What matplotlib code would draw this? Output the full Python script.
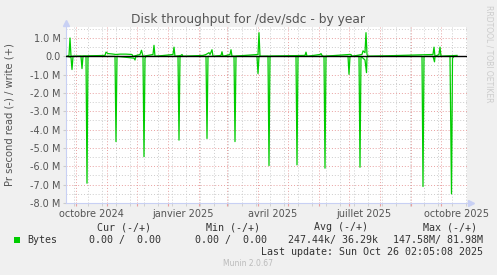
import numpy as np
import matplotlib
matplotlib.use("Agg")
import matplotlib.pyplot as plt
import matplotlib.dates as mdates
from matplotlib.ticker import MultipleLocator, FuncFormatter

# Donnees (jours depuis le 1er octobre 2024, valeurs en M octets/s)
write_days = [-9, -7, -6, -5, 29, 30, 32, 36, 40, 44, 50, 56, 57, 64, 65.5, 67,
              77, 78, 79, 97, 98, 99, 105, 106, 107, 127, 130, 133, 134, 136, 137,
              145, 146, 147, 154, 155, 156, 182, 183, 184, 229, 230, 231,
              244, 245, 246, 247, 273, 275, 276, 286, 287, 289, 290, 291, 292,
              357, 358, 359, 363, 364, 365, 381]
write_vals = [0, 0.05, 1.0, 0, 0.05, 0.23, 0.15, 0.13, 0.1, 0.12, 0.12, 0.1, 0, 0.1, 0.33, 0,
              0.1, 0.6, 0, 0.1, 0.5, 0, 0.05, 0.1, 0, 0.05, 0.1, 0.2, 0.1, 0.36, 0,
              0.05, 0.25, 0, 0.1, 0.36, 0, 0.1, 1.29, 0, 0.05, 0.23, 0,
              0.1, 0.15, 0.05, 0, 0.1, 0.1, 0, 0.1, 0.3, 0.2, 1.29, 0.1, 0,
              0.1, 0.5, 0, 0.1, 0.5, 0, 0.05]

read_days = [-9, -5, -4, -3, 5, 6, 7, 10, 11, 12, 39, 40, 41, 58, 59, 60,
             67, 68, 69, 70, 102, 103, 104, 130, 131, 132, 158, 159, 160,
             181, 182, 183, 192, 193, 194, 220, 221, 222, 248, 249, 250,
             272, 273, 274, 283, 284, 285, 289, 290.5, 291, 346, 347, 348,
             357, 358.5, 359, 374, 375.5, 376.5, 378, 381]
read_vals = [0, 0.05, 0.72, 0, 0, 0.67, 0, 0, 6.92, 0, 0, 4.65, 0, 0.1, 0.2, 0,
             0, 5.47, 0.1, 0, 0, 4.57, 0, 0, 4.48, 0, 0, 4.65, 0,
             0, 0.94, 0, 0, 5.96, 0, 0, 5.92, 0, 0, 6.1, 0,
             0, 0.98, 0, 0, 6.05, 0, 0.2, 0.89, 0, 0, 7.1, 0,
             0, 0.3, 0, 0, 7.5, 0.1, 0, 0]

month_labels = ['octobre 2024', 'janvier 2025', 'avril 2025', 'juillet 2025', 'octobre 2025']
label_dates = ['2024-10-16', '2025-01-16', '2025-04-16', '2025-07-16', '2025-10-16']

legend_headers = ['Cur (-/+)', 'Min (-/+)', 'Avg (-/+)', 'Max (-/+)']
legend_values = ['0.00 /  0.00', '0.00 /  0.00', '247.44k/ 36.29k', '147.58M/ 81.98M']

t0 = np.datetime64('2024-10-01T00:00')
def to_dates(days):
    return t0 + (np.array(days) * 24 * 60).astype('timedelta64[m]')

green = '#00cc00'
bg = '#f0f0f0'
txt = '#555555'

fig = plt.figure(figsize=(4.97, 2.75), dpi=100, facecolor=bg)
ax = fig.add_axes([66/497, 1-203/275, (467-66)/497, (203-27)/275])
ax.set_facecolor('white')

ax.plot(to_dates(write_days), np.array(write_vals)*1e6, color=green, lw=0.9, zorder=3)
ax.plot(to_dates(read_days), -np.array(read_vals)*1e6, color=green, lw=0.9, zorder=3)
ax.axhline(0, color='black', lw=1.0, zorder=4)

ax.set_xlim(np.datetime64('2024-09-21'), np.datetime64('2025-10-27'))
ax.set_ylim(-8e6, 1.6e6)

# grille
ax.yaxis.set_major_locator(MultipleLocator(1e6))
ax.yaxis.set_minor_locator(MultipleLocator(0.5e6))
ax.yaxis.set_major_formatter(FuncFormatter(lambda v, p: '0.0' if abs(v) < 1 else '%.1f M' % (v/1e6)))
ax.xaxis.set_major_locator(mdates.MonthLocator())
minor_days = np.arange(np.datetime64('2024-09-29'), np.datetime64('2025-10-27'), np.timedelta64(14, 'D'))
ax.set_xticks(minor_days, minor=True)
ax.set_xticklabels([])
ax.grid(which='major', axis='both', color='#e8a0a0', ls=(0, (1, 2)), lw=0.7, zorder=1)
ax.grid(which='minor', axis='both', color='#cccccc', ls=(0, (1, 2)), lw=0.7, zorder=0)
ax.tick_params(axis='y', which='major', labelsize=7, labelcolor=txt, color='#cccccc', length=2, pad=2)
ax.tick_params(axis='y', which='minor', length=0)
ax.tick_params(axis='x', which='major', color='#e8a0a0', length=2)
ax.tick_params(axis='x', which='minor', color='#cccccc', length=2)

for s in ['top', 'right']:
    ax.spines[s].set_visible(False)
for s in ['left', 'bottom']:
    ax.spines[s].set_color('#c8d0f4')
    ax.spines[s].set_linewidth(0.8)
ax.plot(0, 1.02, marker='^', color='#c8d0f4', ms=4, transform=ax.transAxes, clip_on=False)
ax.plot(1.01, 0, marker='>', color='#c8d0f4', ms=4, transform=ax.transAxes, clip_on=False)

for lab, d in zip(month_labels, label_dates):
    ax.text(np.datetime64(d), -0.035, lab, transform=ax.get_xaxis_transform(),
            ha='center', va='top', fontsize=7, color=txt)

fig.text(248/497, 1-19/275, 'Disk throughput for /dev/sdc - by year', ha='center', va='center',
         fontsize=8.8, color=txt)
fig.text(10/497, 1-115/275, 'Pr second read (-) / write (+)', rotation=90, ha='center', va='center',
         fontsize=7.2, color=txt)
fig.text(489/497, 1-5/275, 'RRDTOOL / TOBI OETIKER', rotation=270, ha='center', va='top',
         fontsize=5.5, color='#cccccc')

# legende
mono = 'DejaVu Sans Mono'
fig.patches.append(plt.Rectangle((14/497, 1-243/275), 6/497, 6/275, transform=fig.transFigure,
                                 facecolor=green, edgecolor='none'))
fig.text(27/497, 1-240/275, 'Bytes', family=mono, fontsize=7.2, color='#333333', va='center')
for h, x in zip(legend_headers, [151, 260, 368, 477]):
    fig.text(x/497, 1-227/275, h, family=mono, fontsize=7.2, color='#333333', va='center', ha='right')
for v, x in zip(legend_values, [161, 267, 378, 483]):
    fig.text(x/497, 1-240/275, v, family=mono, fontsize=7.2, color='#333333', va='center', ha='right')
fig.text(483/497, 1-252/275, 'Last update: Sun Oct 26 02:05:08 2025', family=mono, fontsize=7.2,
         color='#333333', va='center', ha='right')
fig.text(248/497, 1-264/275, 'Munin 2.0.67', fontsize=5.5, color='#bbbbbb', va='center', ha='center')

fig.savefig('out.png', dpi=100, facecolor=bg)
